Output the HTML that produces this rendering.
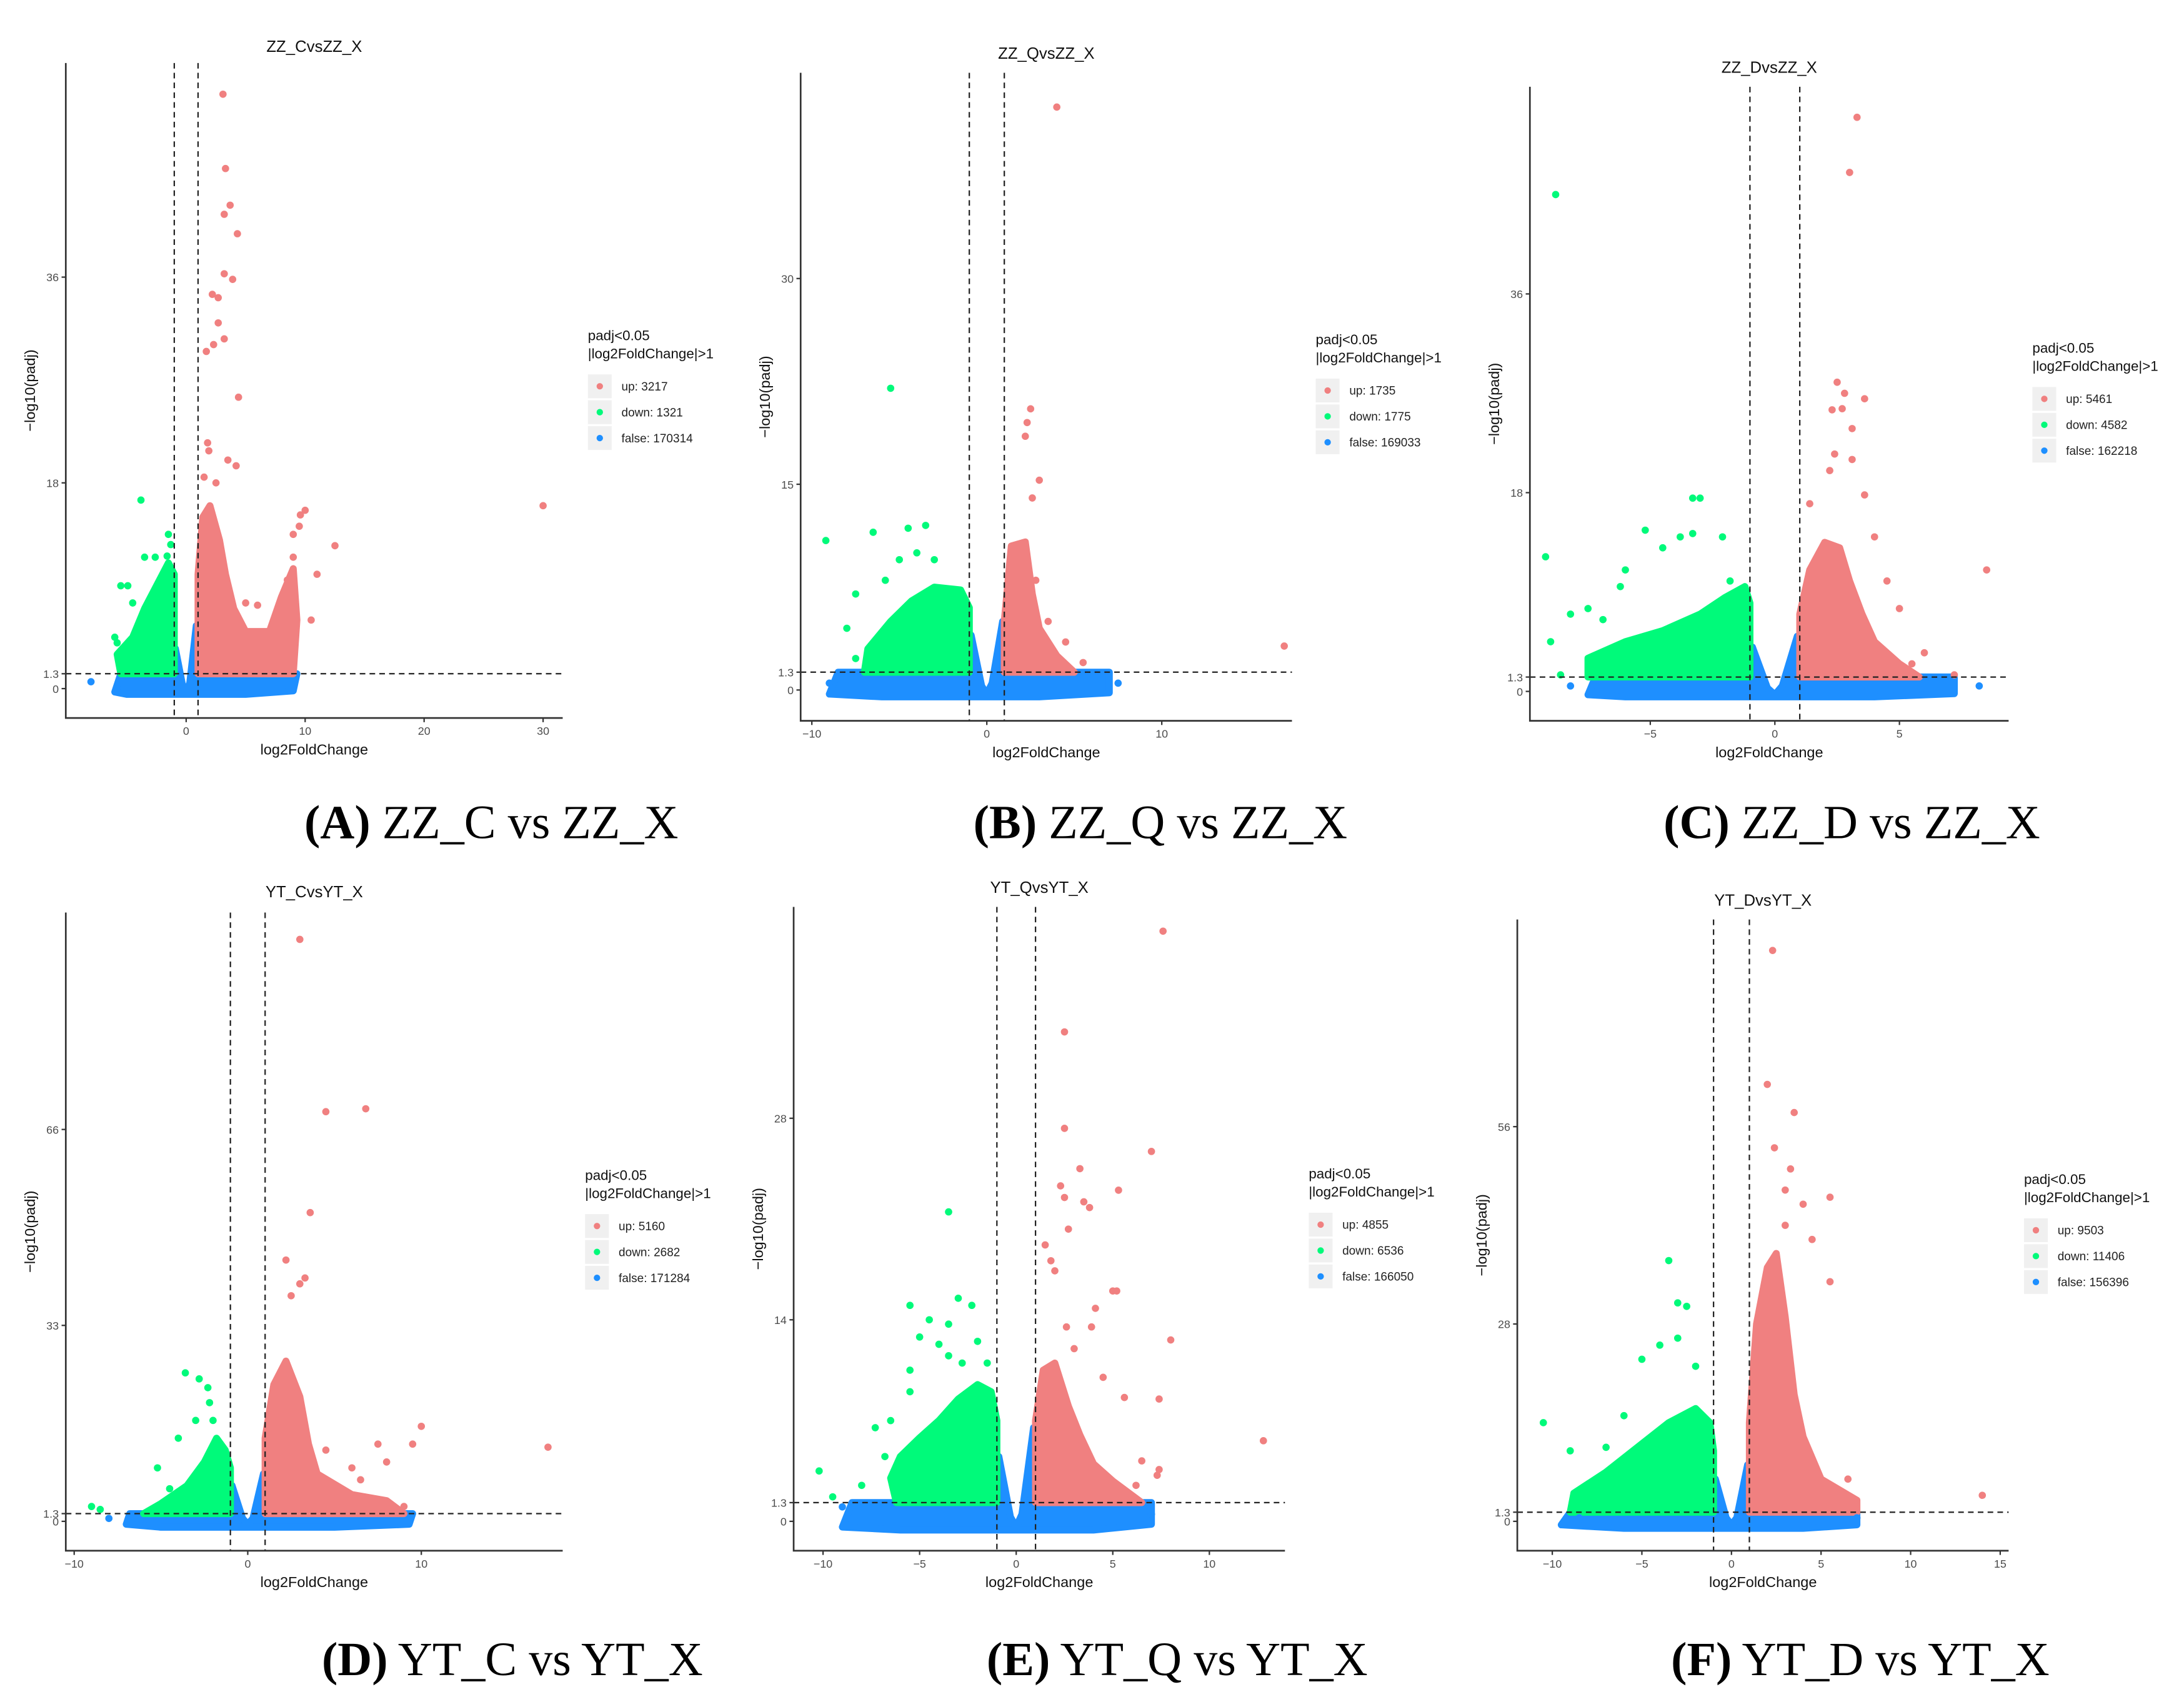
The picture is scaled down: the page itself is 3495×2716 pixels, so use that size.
<!DOCTYPE html>
<html><head><meta charset="utf-8"><title>Volcano plots</title>
<style>html,body{margin:0;padding:0;background:#fff}svg{display:block}</style></head>
<body>
<svg id="fig" xmlns="http://www.w3.org/2000/svg" width="3495" height="2716" viewBox="0 0 1560.3 1212.5" font-family="Liberation Sans, sans-serif"></svg>
<script>
// ---------- data (log2FoldChange, -log10 padj) ----------
const titles = ["ZZ_CvsZZ_X","ZZ_QvsZZ_X","ZZ_DvsZZ_X","YT_CvsYT_X","YT_QvsYT_X","YT_DvsYT_X"];
const captionIds = ["(A)","(B)","(C)","(D)","(E)","(F)"];
const captionTexts = [" ZZ_C vs ZZ_X"," ZZ_Q vs ZZ_X"," ZZ_D vs ZZ_X"," YT_C vs YT_X"," YT_Q vs YT_X"," YT_D vs YT_X"];
const upCounts = [3217,1735,5461,5160,4855,9503];
const downCounts = [1321,1775,4582,2682,6536,11406];
const falseCounts = [170314,169033,162218,171284,166050,156396];
const xTicksA = [0,10,20,30], yTicksA = [0,1.3,18,36];
const xTicksB = [-10,0,10], yTicksB = [0,1.3,15,30];
const xTicksC = [-5,0,5], yTicksC = [0,1.3,18,36];
const xTicksD = [-10,0,10], yTicksD = [0,1.3,33,66];
const xTicksE = [-10,-5,0,5,10], yTicksE = [0,1.3,14,28];
const xTicksF = [-10,-5,0,5,10,15], yTicksF = [0,1.3,28,56];

// dense clouds (outline of the point mass)
const falseCloudA = [[-6,-0.3],[-5.5,1.3],[-1.1,1.3],[-0.9,3.5],[-0.3,0.3],[0,-0.3],[0.3,0.5],[0.85,5.5],[1,1.3],[9.3,1.3],[9,-0.2],[5,-0.5],[-5,-0.5]];
const downCloudA = [[-1,1.3],[-5.5,1.3],[-5.8,3],[-4.5,4.5],[-3.5,7],[-2.5,9],[-1.5,11],[-1,10]];
const upCloudA = [[1,1.3],[1,10],[1.4,15],[2,16],[2.8,13],[3.3,10],[4,7],[5,5],[7,5],[8,8],[9,10.5],[9.3,6],[9,1.3]];
const falseCloudB = [[-9,-0.3],[-8.5,1.3],[-1.1,1.3],[-0.9,4],[-0.3,0.3],[0,-0.3],[0.3,0.5],[0.9,5],[1,1.3],[7,1.3],[7,-0.2],[3,-0.5],[-6,-0.5]];
const downCloudB = [[-1,1.3],[-7,1.3],[-6.8,3],[-5.5,5],[-4.3,6.5],[-3,7.5],[-1.5,7.3],[-1,6]];
const upCloudB = [[1,1.3],[1,5],[1.4,10.5],[2.2,10.8],[2.6,7],[3,4.5],[4,2.5],[5,1.3]];
const falseCloudC = [[-7.5,-0.3],[-7.2,1.3],[-1.1,1.3],[-0.9,4],[-0.3,0.3],[0,-0.3],[0.3,0.5],[0.9,5],[1,1.3],[7.2,1.3],[7.2,-0.2],[4,-0.5],[-6,-0.5]];
const downCloudC = [[-1,1.3],[-7.5,1.3],[-7.5,3],[-6,4.5],[-4.5,5.5],[-3,7],[-2,8.5],[-1.2,9.5],[-1,8]];
const upCloudC = [[1,1.3],[1,7],[1.4,11],[2,13.5],[2.6,13],[3,10],[3.5,7],[4,4.5],[5,2.5],[5.8,1.3]];
const falseCloudD = [[-7,-0.5],[-6.8,1.3],[-1.1,1.3],[-0.9,6],[-0.3,0.5],[0,-0.5],[0.3,0.5],[0.9,8],[1,1.3],[9.5,1.3],[9.3,-0.5],[5,-1],[-5,-1]];
const downCloudD = [[-1,1.3],[-6,1.3],[-5,3],[-3.5,6],[-2.5,10],[-1.8,14],[-1.3,12],[-1,9]];
const upCloudD = [[1,1.3],[1,14],[1.5,23],[2.2,27],[3,21],[3.5,13],[4,8],[6,4.5],[8,3.5],[9,1.3]];
const falseCloudE = [[-9,-0.4],[-8.5,1.3],[-1.1,1.3],[-0.9,4.5],[-0.3,0.3],[0,-0.4],[0.3,0.5],[0.9,6.5],[1,1.3],[7,1.3],[7,-0.2],[4,-0.6],[-6,-0.6]];
const downCloudE = [[-1,1.3],[-6.2,1.3],[-6.5,3],[-6,4.5],[-5,5.8],[-4,7],[-3,8.5],[-2,9.5],[-1.3,9],[-1,7]];
const upCloudE = [[1,1.3],[1,7],[1.4,10.5],[2,11],[2.7,8],[3.3,6],[4,4],[5,2.8],[6,1.8],[6.5,1.3]];
const falseCloudF = [[-9.5,-0.5],[-9,1.3],[-1.1,1.3],[-0.9,6],[-0.3,0.5],[0,-0.5],[0.3,0.5],[0.9,8],[1,1.3],[7,1.3],[7,-0.5],[4,-1],[-6,-1]];
const downCloudF = [[-1,1.3],[-9,1.3],[-8.8,4],[-7,7],[-5,11],[-3.5,14],[-2,16],[-1.2,14],[-1,10]];
const upCloudF = [[1,1.3],[1,14],[1.4,28],[2,36],[2.5,38],[3,29],[3.5,18],[4,12],[5,6],[7,3],[7,1.3]];

// sparse points
const upPtsA = [[3.1,52],[3.3,45.5],[3.7,42.3],[3.2,41.5],[4.3,39.8],[3.2,36.3],[3.9,35.8],[2.2,34.5],[2.7,34.2],[2.7,32],[3.2,30.6],[2.3,30.1],[1.7,29.5],[4.4,25.5],[1.8,21.5],[1.9,20.8],[3.5,20],[4.2,19.5],[1.5,18.5],[2.5,18],[30,16],[12.5,12.5],[10,15.6],[9.6,15.2],[9.5,14.2],[9,13.5],[11,10],[10.5,6],[9,11.5],[6,7.3],[5,7.5],[8.5,9.5]];
const downPtsA = [[-3.8,16.5],[-1.5,13.5],[-1.3,12.6],[-3.5,11.5],[-2.6,11.5],[-1.6,11.6],[-5.5,9],[-4.9,9],[-4.5,7.5],[-6,4.5],[-5.8,4]];
const falsePtsA = [[-8,0.6]];
const upPtsB = [[4,42.5],[2.5,20.5],[2.3,19.5],[2.2,18.5],[3,15.3],[2.6,14],[17,3.2],[5.5,2],[4.5,3.5],[3.5,5],[2.8,8]];
const downPtsB = [[-5.5,22],[-9.2,10.9],[-6.5,11.5],[-4.5,11.8],[-3.5,12],[-4,10],[-5,9.5],[-7.5,7],[-8,4.5],[-7.5,2.3],[-3,9.5],[-5.8,8]];
const falsePtsB = [[-9,0.5],[7.5,0.5]];
const upPtsC = [[3.3,52],[3.0,47],[2.5,28],[2.8,27],[3.6,26.5],[2.3,25.5],[2.7,25.6],[3.1,23.8],[3.1,21],[2.4,21.5],[2.2,20],[3.6,17.8],[1.4,17],[8.5,11],[4.5,10],[5,7.5],[6,3.5],[5.5,2.5],[7.2,1.5],[4,14]];
const downPtsC = [[-8.8,45],[-3.3,17.5],[-3,17.5],[-9.2,12.2],[-5.2,14.6],[-3.3,14.3],[-2.1,14],[-3.8,14],[-4.5,13],[-6,11],[-6.2,9.5],[-9,4.5],[-7.5,7.5],[-8.2,7],[-6.9,6.5],[-8.6,1.5],[-1.8,10]];
const falsePtsC = [[8.2,0.5],[-8.2,0.5]];
const upPtsD = [[3,98],[4.5,69],[6.8,69.5],[3.6,52],[2.2,44],[3,40],[3.3,41],[2.5,38],[10,16],[9.5,13],[17.3,12.5],[7.5,13],[8,10],[6,9],[4.5,12],[9,2.5],[6.5,7]];
const downPtsD = [[-3.6,25],[-2.8,24],[-2.3,22.5],[-2.2,20],[-4,14],[-5.2,9],[-8.5,2],[-9,2.5],[-4.5,5.5],[-3,17],[-2,17]];
const falsePtsD = [[-8,0.5]];
const upPtsE = [[7.6,41],[2.5,34],[2.5,27.3],[7,25.7],[3.3,24.5],[2.3,23.3],[5.3,23],[3.5,22.2],[2.5,22.5],[3.8,21.8],[2.7,20.3],[1.5,19.2],[1.8,18.1],[2,17.4],[5,16],[5.2,16],[4.1,14.8],[3.9,13.5],[2.6,13.5],[8,12.6],[12.8,5.6],[7.4,8.5],[5.6,8.6],[7.4,3.6],[7.3,3.2],[6.5,4.2],[6.2,2.5],[4.5,10],[3,12]];
const downPtsE = [[-3.5,21.5],[-5.5,15],[-3,15.5],[-2.3,15],[-4.5,14],[-3.5,13.7],[-5,12.8],[-4,12.3],[-2,12.5],[-5.5,10.5],[-6.5,7],[-7.3,6.5],[-10.2,3.5],[-9.5,1.7],[-8,2.5],[-3.5,11.5],[-2.8,11],[-5.5,9],[-6.8,4.5],[-1.5,11]];
const falsePtsE = [[-9,1],[7,0.5]];
const upPtsF = [[2.3,81],[2,62],[3.5,58],[2.4,53],[3,47],[5.5,46],[4,45],[4.5,40],[5.5,34],[14,3.7],[6.5,6],[3.3,50],[3,42]];
const downPtsF = [[-3.5,37],[-3,31],[-2.5,30.5],[-4,25],[-5,23],[-10.5,14],[-9,10],[-6,15],[-2,22],[-7,10.5],[-3,26]];
const falsePtsF = [[-8.5,0.5],[7,0.5]];

// ---------- layout (in 1560-unit viewBox) ----------
const COL = {up:"#F08080", down:"#00FA7A", fals:"#1E8FFF"};
const panels = [
 {x0:47,x1:402,yT:45,yB:513,xa:[0,133],xb:[10,218],ya:[0,492],yb:[18,345],leg:[420,243],cap:[351,588],xt:xTicksA,yt:yTicksA,fc:falseCloudA,dc:downCloudA,uc:upCloudA,up:upPtsA,dn:downPtsA,fp:falsePtsA,ty:37},
 {x0:572,x1:923,yT:52,yB:515,xa:[-10,580],xb:[0,705],ya:[0,493],yb:[15,346],leg:[940,246],cap:[829,588],xt:xTicksB,yt:yTicksB,fc:falseCloudB,dc:downCloudB,uc:upCloudB,up:upPtsB,dn:downPtsB,fp:falsePtsB,ty:42},
 {x0:1093,x1:1435,yT:62,yB:515,xa:[-5,1179],xb:[0,1268],ya:[0,494],yb:[18,352],leg:[1452,252],cap:[1323,588],xt:xTicksC,yt:yTicksC,fc:falseCloudC,dc:downCloudC,uc:upCloudC,up:upPtsC,dn:downPtsC,fp:falsePtsC,ty:52},
 {x0:47,x1:402,yT:652,yB:1108,xa:[-10,53],xb:[0,177],ya:[0,1087],yb:[33,947],leg:[418,843],cap:[366,1186],xt:xTicksD,yt:yTicksD,fc:falseCloudD,dc:downCloudD,uc:upCloudD,up:upPtsD,dn:downPtsD,fp:falsePtsD,ty:641},
 {x0:567,x1:918,yT:648,yB:1108,xa:[0,726],xb:[5,795],ya:[0,1087],yb:[14,943],leg:[935,842],cap:[841,1186],xt:xTicksE,yt:yTicksE,fc:falseCloudE,dc:downCloudE,uc:upCloudE,up:upPtsE,dn:downPtsE,fp:falsePtsE,ty:638},
 {x0:1084,x1:1435,yT:657,yB:1108,xa:[0,1237],xb:[5,1301],ya:[0,1087],yb:[28,946],leg:[1446,846],cap:[1329,1186],xt:xTicksF,yt:yTicksF,fc:falseCloudF,dc:downCloudF,uc:upCloudF,up:upPtsF,dn:downPtsF,fp:falsePtsF,ty:647}
];
const NS = "http://www.w3.org/2000/svg";
const svg = document.getElementById("fig");
function mk(tag, attrs, parent, txt){
  const e = document.createElementNS(NS, tag);
  for (const k in attrs) e.setAttribute(k, attrs[k]);
  if (txt !== undefined) e.textContent = txt;
  parent.appendChild(e); return e;
}
panels.forEach((p, i) => {
  const sx = v => p.xa[1] + (v - p.xa[0]) * (p.xb[1] - p.xa[1]) / (p.xb[0] - p.xa[0]);
  const sy = v => p.ya[1] + (v - p.ya[0]) * (p.yb[1] - p.ya[1]) / (p.yb[0] - p.ya[0]);
  const g = mk("g", {}, svg);
  
  
  [[p.fc, COL.fals, 'false-cloud'], [p.dc, COL.down, 'down-cloud'], [p.uc, COL.up, 'up-cloud']].forEach(([pts, c, nm]) => {
    const poly = mk("polygon", {points: pts.map(q => sx(q[0]).toFixed(1) + "," + sy(q[1]).toFixed(1)).join(" "), fill: c, stroke: c, "stroke-width": 5, "stroke-linejoin": "round"}, g);
    
    
  });
  [[p.fp, COL.fals, 'false-point'], [p.dn, COL.down, 'down-point'], [p.up, COL.up, 'up-point']].forEach(([pts, c, nm]) => {
    pts.forEach(q => {
      const ci = mk("circle", {cx: sx(q[0]).toFixed(1), cy: sy(q[1]).toFixed(1), r: 2.6, fill: c}, g);
      
      
    });
  });
  [-1, 1].forEach(v => {
    const l = mk("line", {x1: sx(v), x2: sx(v), y1: p.yT, y2: p.yB, stroke: "#222", "stroke-width": 1, "stroke-dasharray": "4,3"}, g);
    
    
  });
  const h = mk("line", {x1: p.x0, x2: p.x1, y1: sy(1.3), y2: sy(1.3), stroke: "#222", "stroke-width": 1, "stroke-dasharray": "4,3"}, g);
  
  
  const ax = mk("path", {d: `M${p.x0},${p.yT} V${p.yB} H${p.x1}`, fill: "none", stroke: "#333", "stroke-width": 1.2}, g);
  
  
  p.xt.forEach(v => {
    mk("line", {x1: sx(v), x2: sx(v), y1: p.yB, y2: p.yB + 3, stroke: "#333", "stroke-width": 1}, g);
    const t = mk("text", {x: sx(v), y: p.yB + 12, "font-size": 8, fill: "#4d4d4d", "text-anchor": "middle"}, g, v < 0 ? "\u2212" + (-v) : String(v));
    
    
  });
  p.yt.forEach(v => {
    mk("line", {x1: p.x0 - 3, x2: p.x0, y1: sy(v), y2: sy(v), stroke: "#333", "stroke-width": 1}, g);
    const t = mk("text", {x: p.x0 - 5, y: sy(v) + 3, "font-size": 8, fill: "#4d4d4d", "text-anchor": "end"}, g, String(v));
    
    
  });
  const tt = mk("text", {x: (p.x0 + p.x1) / 2, y: p.ty, "font-size": 11.5, fill: "#111", "text-anchor": "middle"}, g, titles[i]);
  
  
  const xl = mk("text", {x: (p.x0 + p.x1) / 2, y: p.yB + 26, "font-size": 10.5, fill: "#111", "text-anchor": "middle"}, g, "log2FoldChange");
  
  
  const yc = (p.yT + p.yB) / 2, yx = p.x0 - 22;
  const yl = mk("text", {x: yx, y: yc, "font-size": 10.5, fill: "#111", "text-anchor": "middle", transform: `rotate(-90 ${yx} ${yc})`}, g, "\u2212log10(padj)");
  
  
  const lg = mk("g", {}, g);
  
  
  const [lx, ly] = p.leg;
  mk("text", {x: lx, y: ly, "font-size": 10, fill: "#111"}, lg, "padj<0.05");
  mk("text", {x: lx, y: ly + 13, "font-size": 10, fill: "#111"}, lg, "|log2FoldChange|>1");
  const rows = [[COL.up, "up: " + upCounts[i]], [COL.down, "down: " + downCounts[i]], [COL.fals, "false: " + falseCounts[i]]];
  rows.forEach((r, k) => {
    const cy = ly + 33 + k * 18.5;
    mk("rect", {x: lx, y: cy - 8.5, width: 17, height: 17, fill: "#f0f0f0"}, lg);
    mk("circle", {cx: lx + 8.5, cy: cy, r: 2.3, fill: r[0]}, lg);
    const t = mk("text", {x: lx + 24, y: cy + 3, "font-size": 8.5, fill: "#222"}, lg, r[1]);
    
    
  });
  const cap = mk("text", {x: p.cap[0], y: p.cap[1] + 11, "font-size": 34, fill: "#000", "text-anchor": "middle", "font-family": "Liberation Serif, serif"}, svg);
  
  
  mk("tspan", {"font-weight": "bold"}, cap, captionIds[i]);
  mk("tspan", {}, cap, captionTexts[i]);
});
</script>
</body></html>
